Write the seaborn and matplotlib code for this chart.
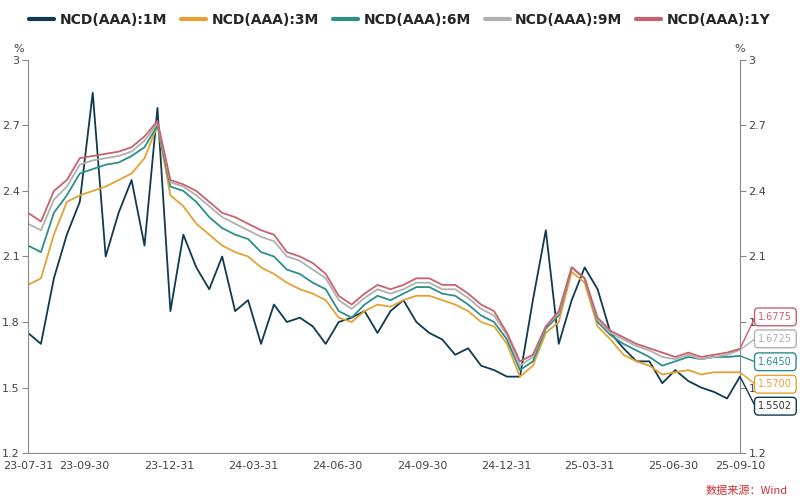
import matplotlib
matplotlib.use("Agg")
import matplotlib.pyplot as plt
import pandas as pd
import seaborn as sns

series_names = ["NCD(AAA):1M", "NCD(AAA):3M", "NCD(AAA):6M", "NCD(AAA):9M", "NCD(AAA):1Y"]
colors = ["#0f3a52", "#e3a233", "#2b8f8a", "#b0b0b0", "#c9626c"]
end_labels = ["1.5502", "1.5700", "1.6450", "1.6725", "1.6775"]

v_1m = [1.75, 1.70, 2.00, 2.20, 2.35, 2.85, 2.10, 2.30, 2.45, 2.15, 2.78, 1.85, 2.20, 2.05,
        1.95, 2.10, 1.85, 1.90, 1.70, 1.88, 1.80, 1.82, 1.78, 1.70, 1.80, 1.82, 1.85, 1.75,
        1.85, 1.90, 1.80, 1.75, 1.72, 1.65, 1.68, 1.60, 1.58, 1.55, 1.55, 1.90, 2.22, 1.70,
        1.90, 2.05, 1.95, 1.75, 1.68, 1.62, 1.62, 1.52, 1.58, 1.53, 1.50, 1.48, 1.45, 1.5502]
v_3m = [1.97, 2.00, 2.20, 2.35, 2.38, 2.40, 2.42, 2.45, 2.48, 2.55, 2.70, 2.38, 2.33, 2.25,
        2.20, 2.15, 2.12, 2.10, 2.05, 2.02, 1.98, 1.95, 1.93, 1.90, 1.82, 1.80, 1.85, 1.88,
        1.87, 1.90, 1.92, 1.92, 1.90, 1.88, 1.85, 1.80, 1.78, 1.70, 1.55, 1.60, 1.75, 1.80,
        2.03, 1.98, 1.78, 1.72, 1.65, 1.62, 1.60, 1.56, 1.57, 1.58, 1.56, 1.57, 1.57, 1.57]
v_6m = [2.15, 2.12, 2.30, 2.38, 2.48, 2.50, 2.52, 2.53, 2.56, 2.60, 2.70, 2.42, 2.40, 2.35,
        2.28, 2.23, 2.20, 2.18, 2.12, 2.10, 2.04, 2.02, 1.98, 1.95, 1.85, 1.82, 1.88, 1.92,
        1.90, 1.93, 1.96, 1.96, 1.93, 1.92, 1.88, 1.83, 1.80, 1.72, 1.58, 1.62, 1.77, 1.83,
        2.05, 2.00, 1.80, 1.74, 1.70, 1.67, 1.64, 1.60, 1.62, 1.64, 1.63, 1.64, 1.64, 1.645]
v_9m = [2.25, 2.22, 2.36, 2.42, 2.52, 2.54, 2.55, 2.56, 2.58, 2.63, 2.71, 2.44, 2.42, 2.38,
        2.33, 2.28, 2.25, 2.22, 2.19, 2.17, 2.10, 2.08, 2.04, 2.00, 1.90, 1.86, 1.91, 1.95,
        1.93, 1.95, 1.98, 1.98, 1.95, 1.95, 1.91, 1.86, 1.83, 1.74, 1.60, 1.64, 1.78, 1.84,
        2.05, 2.00, 1.81, 1.75, 1.72, 1.69, 1.67, 1.64, 1.63, 1.65, 1.63, 1.64, 1.65, 1.6725]
v_1y = [2.30, 2.26, 2.40, 2.45, 2.55, 2.56, 2.57, 2.58, 2.60, 2.65, 2.72, 2.45, 2.43, 2.40,
        2.35, 2.30, 2.28, 2.25, 2.22, 2.20, 2.12, 2.10, 2.07, 2.02, 1.92, 1.88, 1.93, 1.97,
        1.95, 1.97, 2.00, 2.00, 1.97, 1.97, 1.93, 1.88, 1.85, 1.75, 1.62, 1.65, 1.78, 1.85,
        2.05, 2.00, 1.82, 1.76, 1.73, 1.70, 1.68, 1.66, 1.64, 1.66, 1.64, 1.65, 1.66, 1.6775]

dates = pd.date_range("2023-07-31", "2025-09-10", periods=len(v_1m))
df = pd.DataFrame({"date": dates, series_names[0]: v_1m, series_names[1]: v_3m,
                   series_names[2]: v_6m, series_names[3]: v_9m, series_names[4]: v_1y})
long = df.melt(id_vars="date", var_name="series", value_name="rate")

sns.set_style("white")
fig = plt.figure(figsize=(8, 4.99), dpi=100)
ax = fig.add_axes([0.035, 0.092, 0.89, 0.788])
sns.lineplot(data=long, x="date", y="rate", hue="series", palette=colors,
             linewidth=1.3, ax=ax, legend=False)

x0, x1 = pd.Timestamp("2023-07-31"), pd.Timestamp("2025-09-10")
ax.set_xlim(x0, x1)
ax.set_ylim(1.2, 3.0)
ticks = [1.2, 1.5, 1.8, 2.1, 2.4, 2.7, 3.0]
tick_labels = ["1.2", "1.5", "1.8", "2.1", "2.4", "2.7", "3"]
ax.set_yticks(ticks)
ax.set_yticklabels(tick_labels, fontsize=8, color="#444")
xt = pd.to_datetime(["2023-07-31", "2023-09-30", "2023-12-31", "2024-03-31", "2024-06-30",
                     "2024-09-30", "2024-12-31", "2025-03-31", "2025-06-30", "2025-09-10"])
ax.set_xticks(xt)
ax.set_xticklabels([d.strftime("%y-%m-%d") for d in xt], fontsize=8, color="#444")
ax.set_xlabel("")
ax.set_ylabel("")
ax.tick_params(length=4, color="#888", pad=2)
for s in ["top", "right"]:
    ax.spines[s].set_visible(False)
for s in ["left", "bottom"]:
    ax.spines[s].set_color("#888")

ax2 = ax.twinx()
ax2.set_ylim(1.2, 3.0)
ax2.set_yticks(ticks)
ax2.set_yticklabels(tick_labels, fontsize=8, color="#444")
ax2.tick_params(length=4, color="#888", pad=2)
for s in ["top", "left", "bottom"]:
    ax2.spines[s].set_visible(False)
ax2.spines["right"].set_color("#888")
ax.text(-0.005, 1.02, "%", transform=ax.transAxes, fontsize=8, color="#444", ha="right")
ax.text(1.0, 1.02, "%", transform=ax.transAxes, fontsize=8, color="#444", ha="center")

# end value boxes with leader lines
box_fy = [0.186, 0.230, 0.275, 0.321, 0.365]
end_vals = [v_1m[-1], v_3m[-1], v_6m[-1], v_9m[-1], v_1y[-1]]
for lab, c, fy, v in zip(end_labels, colors, box_fy, end_vals):
    ly = (v - 1.2) / 1.8 * 0.788 + 0.092
    fig.add_artist(plt.Line2D([0.925, 0.944], [ly, fy], color=c, lw=1, transform=fig.transFigure))
    fig.text(0.948, fy, lab, fontsize=7, color="#333" if c == "#0f3a52" else c,
             va="center", zorder=10,
             bbox=dict(boxstyle="round,pad=0.4", fc="white", ec=c, lw=1))

handles = [plt.Line2D([], [], color=c, lw=3) for c in colors]
fig.legend(handles, series_names, loc="upper center", bbox_to_anchor=(0.5, 1.0), ncol=5,
           frameon=False, prop={"weight": "bold", "size": 10}, handlelength=1.8,
           columnspacing=1.0, handletextpad=0.4)
fig.text(0.985, 0.01, "数据来源：Wind", color="#d03030", fontsize=8, ha="right",
         family=["Noto Sans CJK SC", "DejaVu Sans"])
fig.savefig("out.png", dpi=100, facecolor="white")
